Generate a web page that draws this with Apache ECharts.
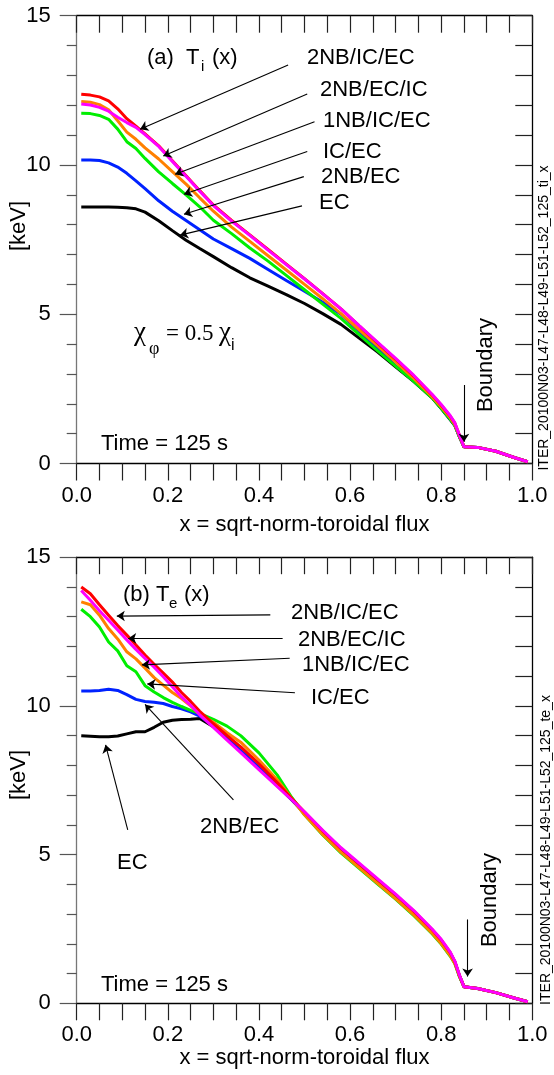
<!DOCTYPE html>
<html><head><meta charset="utf-8">
<script src="https://cdn.jsdelivr.net/npm/echarts@6/dist/echarts.min.js"></script>
<style>html,body{margin:0;padding:0;background:#fff}#c{width:554px;height:1075px}</style>
</head><body><div id="c"></div>
<script>
// ---------- data: panel (a) Ti ----------
const xTi = [0.01,0.03,0.05,0.07,0.09,0.11,0.13,0.15,0.18,0.21,0.24,0.27,0.30,0.34,0.38,0.42,0.46,0.50,0.54,0.58,0.62,0.66,0.70,0.74,0.78,0.80,0.82,0.83,0.84,0.85,0.88,0.92,0.96,0.99];
const tiRed     = [12.37,12.34,12.28,12.15,11.88,11.55,11.30,11.04,10.64,10.14,9.64,9.14,8.66,8.14,7.66,7.17,6.68,6.19,5.69,5.18,4.61,4.05,3.50,2.93,2.30,1.96,1.58,1.35,0.95,0.56,0.54,0.41,0.20,0.06];
const tiMagenta = [12.04,12.01,11.93,11.80,11.60,11.42,11.26,11.02,10.62,10.12,9.62,9.12,8.64,8.12,7.64,7.15,6.66,6.18,5.68,5.18,4.62,4.07,3.52,2.95,2.32,1.98,1.60,1.36,0.95,0.56,0.54,0.41,0.20,0.06];
const tiOrange  = [12.13,12.10,12.02,11.85,11.48,11.10,10.86,10.57,10.20,9.78,9.36,8.90,8.45,7.92,7.44,6.96,6.48,6.00,5.52,5.02,4.48,3.95,3.40,2.85,2.24,1.90,1.53,1.30,0.92,0.56,0.54,0.41,0.20,0.06];
const tiGreen   = [11.73,11.72,11.66,11.53,11.20,10.78,10.55,10.22,9.77,9.38,9.00,8.60,8.15,7.70,7.22,6.78,6.30,5.82,5.34,4.86,4.32,3.78,3.26,2.75,2.20,1.85,1.48,1.28,0.90,0.56,0.54,0.41,0.20,0.06];
const tiBlue    = [10.17,10.17,10.15,10.07,9.93,9.72,9.47,9.21,8.80,8.45,8.14,7.83,7.52,7.20,6.87,6.50,6.13,5.77,5.40,5.00,4.43,3.85,3.28,2.76,2.22,1.86,1.48,1.28,0.90,0.56,0.54,0.41,0.20,0.06];
const tiBlack   = [8.59,8.59,8.59,8.59,8.58,8.57,8.53,8.42,8.13,7.80,7.48,7.20,6.93,6.56,6.22,5.94,5.66,5.36,5.02,4.66,4.20,3.74,3.24,2.74,2.20,1.84,1.46,1.27,0.90,0.56,0.54,0.41,0.20,0.06];

// ---------- data: panel (b) Te ----------
const xTe = [0.01,0.03,0.05,0.07,0.09,0.11,0.13,0.15,0.17,0.19,0.21,0.23,0.25,0.27,0.30,0.33,0.36,0.40,0.44,0.47,0.50,0.54,0.58,0.62,0.66,0.70,0.74,0.78,0.80,0.82,0.83,0.84,0.85,0.88,0.92,0.96,0.99];
const teRed     = [14.00,13.77,13.40,13.05,12.70,12.38,12.05,11.71,11.40,11.10,10.80,10.45,10.15,9.82,9.40,9.00,8.62,8.05,7.42,6.92,6.43,5.80,5.21,4.69,4.17,3.65,3.10,2.48,2.13,1.70,1.40,0.94,0.56,0.50,0.36,0.18,0.05];
const teMagenta = [13.88,13.55,13.20,12.88,12.55,12.22,11.90,11.60,11.30,10.98,10.64,10.30,10.02,9.70,9.28,8.85,8.43,7.86,7.29,6.87,6.44,5.82,5.23,4.71,4.19,3.67,3.12,2.50,2.15,1.72,1.42,0.95,0.56,0.50,0.36,0.18,0.05];
const teOrange  = [13.50,13.40,13.05,12.60,12.25,11.82,11.58,11.27,10.95,10.70,10.45,10.25,10.00,9.72,9.45,9.10,8.78,8.18,7.52,6.92,6.34,5.68,5.08,4.56,4.04,3.52,2.97,2.36,2.01,1.60,1.34,0.92,0.56,0.50,0.36,0.18,0.05];
const teGreen   = [13.25,13.00,12.65,12.15,11.85,11.35,11.15,10.68,10.47,10.28,10.12,9.98,9.85,9.75,9.55,9.32,9.00,8.42,7.68,6.97,6.34,5.66,5.06,4.54,4.02,3.50,2.95,2.34,1.99,1.58,1.33,0.90,0.56,0.50,0.36,0.18,0.05];
const teBlue    = [10.50,10.50,10.52,10.56,10.52,10.38,10.22,10.15,10.12,10.08,9.98,9.90,9.80,9.66,9.33,8.92,8.50,7.93,7.34,6.88,6.40,5.78,5.19,4.67,4.15,3.63,3.08,2.46,2.11,1.68,1.39,0.93,0.56,0.50,0.36,0.18,0.05];
const teBlack   = [9.00,8.98,8.96,8.96,8.99,9.06,9.13,9.13,9.28,9.45,9.52,9.54,9.55,9.58,9.30,8.90,8.48,7.90,7.32,6.87,6.39,5.77,5.18,4.66,4.14,3.62,3.07,2.45,2.10,1.67,1.38,0.92,0.56,0.50,0.36,0.18,0.05];

const caseNames = ['2NB/IC/EC','2NB/EC/IC','1NB/IC/EC','IC/EC','2NB/EC','EC'];
// annotation arrows [from, to] in data units
const tiArrows = [
  [[0.464,13.35],[0.139,11.20]],
  [[0.506,12.38],[0.190,10.30]],
  [[0.522,11.45],[0.216,9.69]],
  [[0.506,10.45],[0.2355,9.02]],
  [[0.4985,9.61],[0.2355,8.35]],
  [[0.4945,8.63],[0.227,7.65]]
];
const teArrows = [
  [[0.425,13.06],[0.088,13.02]],
  [[0.452,12.27],[0.113,12.27]],
  [[0.4675,11.60],[0.143,11.38]],
  [[0.479,10.44],[0.155,10.74]],
  [[0.344,6.84],[0.150,10.05]],
  [[0.112,5.83],[0.0634,8.69]]
];
const tiBoundary = [[0.85,2.63],[0.85,0.73]];
const teBoundary = [[0.858,2.82],[0.858,0.90]];

const colors = {red:'#ff0000', magenta:'#ff00ff', orange:'#ff8000', green:'#00ee00', blue:'#0022ff', black:'#000000'};
const FONT = 'Liberation Sans, Arial, Helvetica, sans-serif';

function pairs(xs, ys){ return xs.map((x,i)=>[x, ys[i]]); }

function axesFor(g){
  const xb = {gridIndex:g, type:'value', min:0, max:1, interval:0.2, position:'bottom',
    axisLine:{show:true, onZero:false, lineStyle:{color:'#000', width:1.3}},
    axisTick:{show:true, inside:false, length:17, lineStyle:{color:'#222', width:1.2}},
    minorTick:{show:true, splitNumber:4, length:17, lineStyle:{color:'#222', width:1.2}},
    axisLabel:{show:true, fontSize:22, fontFamily:FONT, color:'#000', margin:21, formatter:v=>v.toFixed(1)},
    splitLine:{show:false}, minorSplitLine:{show:false}};
  const xt = {gridIndex:g, type:'value', min:0, max:1, interval:0.2, position:'top',
    axisLine:{show:true, onZero:false, lineStyle:{color:'#000', width:1.3}},
    axisTick:{show:true, inside:true, length:17, lineStyle:{color:'#222', width:1.2}},
    minorTick:{show:true, splitNumber:4, length:17, lineStyle:{color:'#222', width:1.2}},
    axisLabel:{show:false}, splitLine:{show:false}};
  const yl = {gridIndex:g, type:'value', min:0, max:15, interval:5, position:'left',
    axisLine:{show:true, onZero:false, lineStyle:{color:'#777', width:1.3}},
    axisTick:{show:true, inside:false, length:17, lineStyle:{color:'#555', width:1.2}},
    minorTick:{show:true, splitNumber:5, length:10, lineStyle:{color:'#555', width:1.2}},
    axisLabel:{show:true, fontSize:22, fontFamily:FONT, color:'#000', margin:26},
    splitLine:{show:false}};
  const yr = {gridIndex:g, type:'value', min:0, max:15, interval:5, position:'right',
    axisLine:{show:true, onZero:false, lineStyle:{color:'#000', width:1.3}},
    axisTick:{show:true, inside:true, length:17, lineStyle:{color:'#222', width:1.2}},
    minorTick:{show:true, splitNumber:5, length:17, lineStyle:{color:'#222', width:1.2}},
    axisLabel:{show:false}, splitLine:{show:false}};
  return {x:[xb, xt], y:[yl, yr]};
}
const a0 = axesFor(0), a1 = axesFor(1);

function lineSeries(name, xs, ys, color, axisIdx, extra){
  return Object.assign({
    name, type:'line', xAxisIndex:axisIdx, yAxisIndex:axisIdx,
    data: pairs(xs, ys), showSymbol:false, symbol:'none', smooth:false,
    lineStyle:{color, width:3}, itemStyle:{color}, animation:false, silent:true, z:3
  }, extra||{});
}
function arrowMark(arrs){
  return {silent:true, animation:false, symbol:['none','arrow'], symbolSize:8,
    label:{show:false}, emphasis:{disabled:true},
    lineStyle:{color:'#000', width:1.1, type:'solid'},
    data: arrs.map(a=>[{coord:a[0]},{coord:a[1]}])};
}

const panelSeries = (xs, blk, blu, grn, org, red, mag, axisIdx, arrows, bnd) => [
  lineSeries(caseNames[5], xs, blk, colors.black, axisIdx, {markLine: arrowMark(arrows.concat([bnd]))}),
  lineSeries(caseNames[4], xs, blu, colors.blue, axisIdx),
  lineSeries(caseNames[3], xs, grn, colors.green, axisIdx),
  lineSeries(caseNames[2], xs, org, colors.orange, axisIdx),
  lineSeries(caseNames[0], xs, red, colors.red, axisIdx),
  lineSeries(caseNames[1], xs, mag, colors.magenta, axisIdx)
];

function txt(text, x, y, size, opts){
  opts = opts||{};
  return {type:'text', x, y, rotation: opts.rot||0, silent:true, z:50,
    style:{text, fontSize:size, fontFamily:opts.family||FONT, fill:'#000',
      align:opts.align||'left', verticalAlign:'middle',
      textAlign:opts.align||'left', textVerticalAlign:'middle', fontStyle:opts.style||'normal'}};
}

const labelPosA = [[307,58],[320,90],[323,121],[323,152],[321,177],[319,203]];
const labelPosB = [[291,613],[298,640],[302,665],[311,698],[200,827],[117,863]];

const graphics = [];
caseNames.forEach((n,i)=>{
  graphics.push(txt(n, labelPosA[i][0], labelPosA[i][1], 22));
  graphics.push(txt(n, labelPosB[i][0], labelPosB[i][1], 22));
});
graphics.push(
  txt('(a)  T', 147, 58, 22), txt('i', 201, 67, 15), txt('(x)', 212, 58, 22),
  txt('(b) T', 123, 595, 22), txt('e', 169, 604, 15), txt('(x)', 184, 595, 22),
  txt('Time = 125 s', 101, 444, 22), txt('Time = 125 s', 101, 985, 22),
  txt('χ', 134, 333, 27, {family:'Liberation Serif, serif'}),
  txt('φ', 149, 349, 18, {family:'Liberation Serif, serif'}),
  txt('= 0.5', 166, 334, 23, {family:'Liberation Serif, serif'}),
  txt('χ', 219, 333, 27, {family:'Liberation Serif, serif'}),
  txt('i', 231, 346, 16),
  txt('Boundary', 486, 365, 22, {rot:Math.PI/2, align:'center'}),
  txt('Boundary', 490, 900, 22, {rot:Math.PI/2, align:'center'}),
  txt('[keV]', 19, 226, 22, {rot:Math.PI/2, align:'center'}),
  txt('[keV]', 19, 775, 22, {rot:Math.PI/2, align:'center'}),
  txt('x = sqrt-norm-toroidal flux', 304.5, 525, 22, {align:'center'}),
  txt('x = sqrt-norm-toroidal flux', 304.5, 1058, 22, {align:'center'}),
  txt('ITER_20100N03-L47-L48-L49-L51-L52_125_ti_x', 544, 318, 14, {rot:Math.PI/2, align:'center'}),
  txt('ITER_20100N03-L47-L48-L49-L51-L52_125_te_x', 546, 850, 14, {rot:Math.PI/2, align:'center'})
);

const chart = echarts.init(document.getElementById('c'), null, {renderer:'canvas'});
chart.setOption({
  animation:false,
  backgroundColor:'#ffffff',
  grid:[
    {left:76.7, top:15.7, width:455.6, height:447.8, containLabel:false},
    {left:76.7, top:557.2, width:455.6, height:446.1, containLabel:false}
  ],
  xAxis:[a0.x[0], a0.x[1], a1.x[0], a1.x[1]],
  yAxis:[a0.y[0], a0.y[1], a1.y[0], a1.y[1]],
  series: panelSeries(xTi, tiBlack, tiBlue, tiGreen, tiOrange, tiRed, tiMagenta, 0, tiArrows, tiBoundary)
    .concat(panelSeries(xTe, teBlack, teBlue, teGreen, teOrange, teRed, teMagenta, 2, teArrows, teBoundary)),
  graphic:{elements:graphics}
});
</script></body></html>
